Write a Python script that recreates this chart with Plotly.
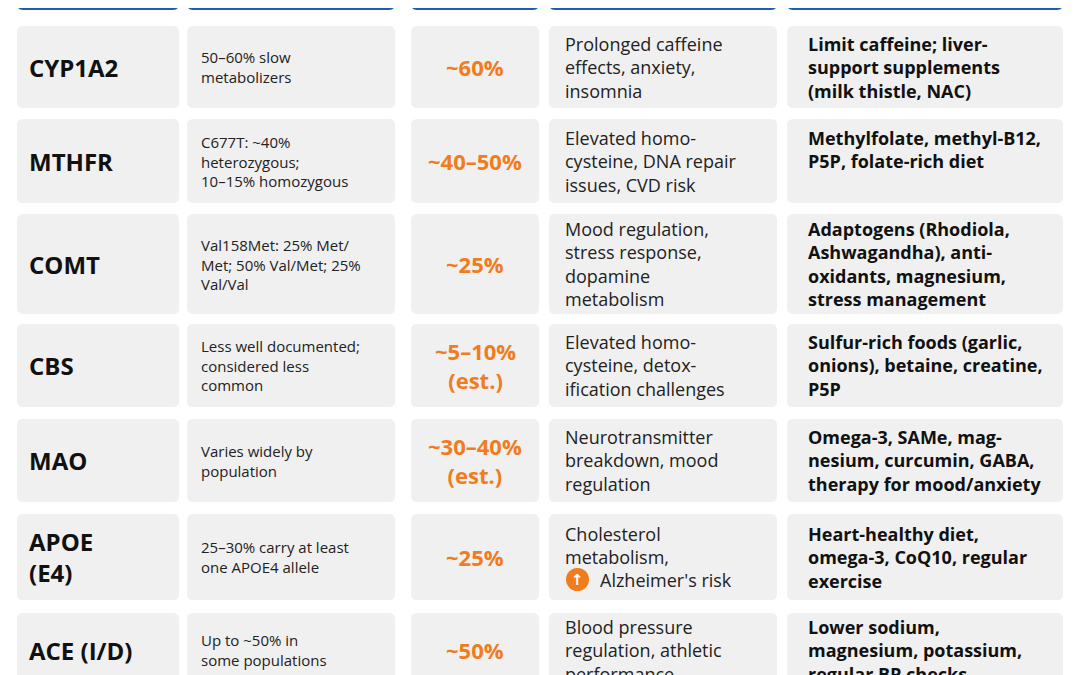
import plotly.graph_objects as go

genes = ["CYP1A2", "MTHFR", "COMT", "CBS", "MAO", "APOE<br>(E4)", "ACE (I/D)"]
prevalence = [
    "50–60% slow<br>metabolizers",
    "C677T: ~40%<br>heterozygous;<br>10–15% homozygous",
    "Val158Met: 25% Met/<br>Met; 50% Val/Met; 25%<br>Val/Val",
    "Less well documented;<br>considered less<br>common",
    "Varies widely by<br>population",
    "25–30% carry at least<br>one APOE4 allele",
    "Up to ~50% in<br>some populations",
]
estimates = ["~60%", "~40–50%", "~25%", "~5–10%<br>(est.)", "~30–40%<br>(est.)", "~25%", "~50%"]
effects = [
    "Prolonged caffeine<br>effects, anxiety,<br>insomnia",
    "Elevated homo-<br>cysteine, DNA repair<br>issues, CVD risk",
    "Mood regulation,<br>stress response,<br>dopamine<br>metabolism",
    "Elevated homo-<br>cysteine, detox-<br>ification challenges",
    "Neurotransmitter<br>breakdown, mood<br>regulation",
    "Cholesterol<br>metabolism,<br> ",
    "Blood pressure<br>regulation, athletic<br>performance",
]
support = [
    "Limit caffeine; liver-<br>support supplements<br>(milk thistle, NAC)",
    "Methylfolate, methyl-B12,<br>P5P, folate-rich diet<br> ",
    "Adaptogens (Rhodiola,<br>Ashwagandha), anti-<br>oxidants, magnesium,<br>stress management",
    "Sulfur-rich foods (garlic,<br>onions), betaine, creatine,<br>P5P",
    "Omega-3, SAMe, mag-<br>nesium, curcumin, GABA,<br>therapy for mood/anxiety",
    "Heart-healthy diet,<br>omega-3, CoQ10, regular<br>exercise",
    "Lower sodium,<br>magnesium, potassium,<br>regular BP checks",
]
row_tops = [26, 119, 214, 324, 419, 514, 613]
row_bots = [108, 203, 314, 407, 502, 600, 720]
col_x = [(17, 179), (187, 395), (411, 539), (549, 777), (787, 1063)]

FONT = "Open Sans"
BLUE = "#1c5fae"
CARD = "#f0f0f0"
ORANGE = "#f07c1e"

def rr(x0, y0, x1, y1, r=6):
    return (f"M{x0+r},{y0} L{x1-r},{y0} Q{x1},{y0} {x1},{y0+r} L{x1},{y1-r} Q{x1},{y1} {x1-r},{y1} "
            f"L{x0+r},{y1} Q{x0},{y1} {x0},{y1-r} L{x0},{y0+r} Q{x0},{y0} {x0+r},{y0} Z")

shapes, anns = [], []
for (a, b) in col_x:
    shapes.append(dict(type="path", path=rr(a, -20, b, 10), fillcolor=BLUE, line=dict(width=0)))

for i in range(len(genes)):
    t, bt = row_tops[i], row_bots[i]
    cy = (t + bt) / 2 if i < 6 else 650
    for (a, b) in col_x:
        shapes.append(dict(type="path", path=rr(a, t, b, bt), fillcolor=CARD, line=dict(width=0)))
    anns.append(dict(x=27, y=cy, text=f"<b>{genes[i]}</b>", xanchor="left", align="left",
                     font=dict(size=24, color="#111", family=FONT), showarrow=False))
    anns.append(dict(x=199, y=cy, text=prevalence[i], xanchor="left", align="left",
                     font=dict(size=15, color="#222", family=FONT), showarrow=False))
    anns.append(dict(x=475, y=cy, text=f"<b>{estimates[i]}</b>", xanchor="center", align="center",
                     font=dict(size=22, color=ORANGE, family=FONT), showarrow=False))
    anns.append(dict(x=563, y=cy, text=effects[i], xanchor="left", align="left",
                     font=dict(size=18, color="#222", family=FONT), showarrow=False))
    anns.append(dict(x=806, y=cy, text=f"<b>{support[i]}</b>", xanchor="left", align="left",
                     font=dict(size=18, color="#111", family=FONT), showarrow=False))

shapes.append(dict(type="circle", x0=566, x1=589, y0=568, y1=591, fillcolor=ORANGE, line=dict(width=0)))
anns.append(dict(x=577.5, y=579.5, text="<b>↑</b>", font=dict(size=15, color="white", family="DejaVu Sans"),
                 showarrow=False))
anns.append(dict(x=598, y=580, text="Alzheimer's risk", xanchor="left", align="left",
                 font=dict(size=18, color="#222", family=FONT), showarrow=False))

fig = go.Figure()
# ranges offset by 8px to compensate for default page body margin
fig.update_layout(width=1080, height=675, margin=dict(l=0, r=0, t=0, b=0),
                  paper_bgcolor="white", plot_bgcolor="white",
                  xaxis=dict(range=[8, 1088], visible=False, fixedrange=True),
                  yaxis=dict(range=[683, 8], visible=False, fixedrange=True),
                  shapes=shapes, annotations=anns, showlegend=False)
fig.write_html("out.html", config={"displayModeBar": False})
